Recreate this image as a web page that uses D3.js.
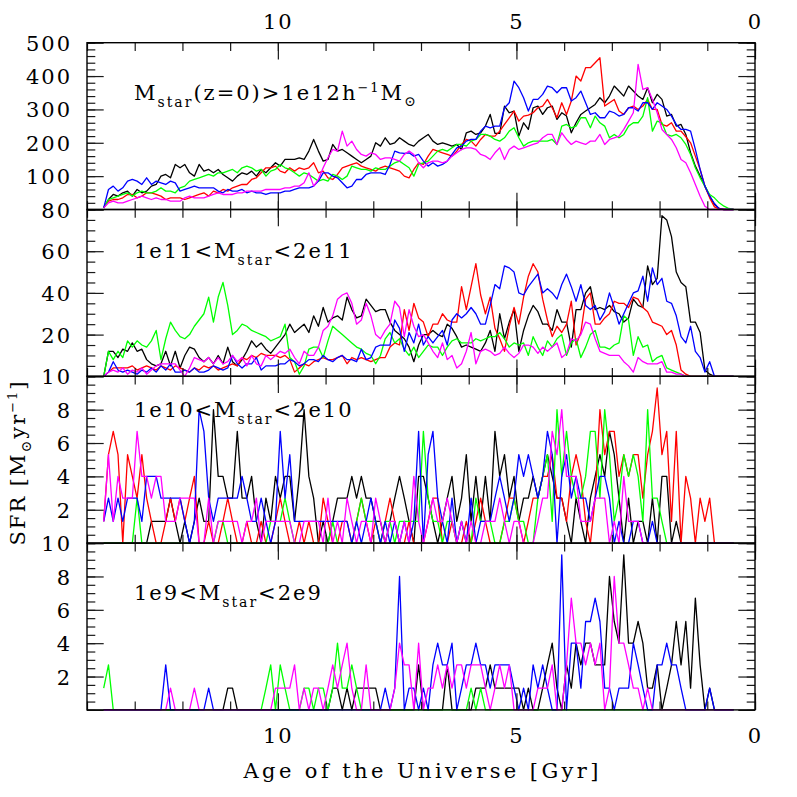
<!DOCTYPE html>
<html>
<head>
<meta charset="utf-8">
<script src="https://cdnjs.cloudflare.com/ajax/libs/d3/7.8.5/d3.min.js"></script>
<style>
  body { margin: 0; background: #fff; }
  svg { display: block; }
  text { font-family: "DejaVu Serif", serif; fill: #000; }
</style>
</head>
<body>
<script>
// time bins of 0.1 Gyr, first bin centred at an age of 13.65 Gyr
var firstBinAge = 13.65, binWidth = 0.1;

// panel 1: Mstar(z=0) > 1e12 h^-1 Msun
var p1Black = [5,30,45,40,50,55,40,60,50,55, 70,75,100,105,95,135,125,135,110,100, 135,115,120,110,120,105,95,85,100,110,
  105,115,100,120,110,125,140,130,150,150, 150,155,150,175,210,175,145,150,195,175, 180,170,160,150,140,150,160,200,190,215,
  195,200,215, 205,195,190,205,215,225,205,195,200,195, 190,195,180,230,235,225,230,250,285,228,
  228,310,290,295,220,260,240,305,310,285, 305,310,270,290,280,230,260,285,295,305, 315,335,320,340,370,355,340,370,355,340,
  330,365,320,345,330,280,285,250,255,225, 170,130,100,70,40,15,3,0,0,0];
var p1Red = [5,25,30,30,35,45,45,35,40,50, 50,45,40,30,35,35,35,30,35,40, 45,50,40,55,50,60,55,65,70,75,
  75,90,95,110,125,125,130,115,110,125, 115,125,120,125,140,110,115,95,90,105, 125,130,135,140,130,125,120,115,125,130,
  125,120,115, 100,95,120,140,135,160,180,175,170,165, 160,175,195,210,205,190,210,225,220,220,
  235,255,275,295,265,280,283,290,305,310, 330,305,275,320,285,325,400,385,425,425, 440,455,310,320,330,295,285,305,310,300,
  310,330,300,300,255,250,260,235,235,218, 200,160,120,70,35,8,2,0,0,0];
var p1Green = [5,30,35,40,45,50,40,50,55,50, 50,55,65,55,55,50,65,70,85,90, 95,100,105,100,110,110,115,120,110,125,
  130,125,115,120,100,115,120,135,125,120, 110,100,110,105,95,85,90,85,105,100, 90,100,130,125,120,120,115,125,120,120,
  130,140,145, 135,125,100,135,140,145,160,175,180,175, 185,195,195,190,205,210,225,225,220,210,
  205,215,235,245,215,190,200,205,205,205, 205,210,195,250,255,245,250,275,275,245, 280,260,250,215,225,215,225,250,260,260,
  280,335,235,265,260,225,220,225,215,195, 165,125,95,70,45,35,20,10,3,0];
var p1Blue = [5,60,70,55,65,85,90,85,75,95, 75,85,80,75,85,80,55,60,65,70, 65,65,65,65,55,50,60,55,55,60,
  50,55,50,50,45,50,50,50,55,55, 60,65,65,65,70,85,110,110,100,95, 80,65,70,90,90,105,110,110,110,105,
  135,175,170, 168,170,160,165,145,130,140,130,135,145, 165,185,190,205,210,210,235,250,245,250,
  250,305,320,385,365,335,295,330,330,345, 370,365,350,365,365,325,335,355,320,285, 290,275,275,295,290,280,285,305,305,295,
  320,320,300,320,310,300,280,255,240,240, 235,180,120,70,40,18,2,0,0,0];
var p1Magenta = [5,20,25,20,20,25,30,35,40,35, 30,35,30,30,25,25,25,35,40,35, 35,35,40,45,50,45,45,45,50,50,
  55,55,55,55,60,60,60,60,65,65, 70,70,80,110,70,90,125,155,180,175, 235,190,205,180,165,160,170,165,150,155,
  155,150,145, 165,175,165,140,125,140,145,145,140,145, 160,170,180,185,185,180,165,160,150,170,
  185,150,180,190,180,185,190,195,200,215, 225,225,195,230,210,195,205,200,195,205, 205,225,195,210,215,220,240,265,290,435,
  360,365,330,290,240,225,210,185,150,140, 110,75,40,10,0,0,0,0,0,0];

// panel 2: 1e11 < Mstar < 2e11
var p2Black = [0,12,12,9,13,12,16,12,13,8, 6,5,6,12,5,12,4,10,14,13, 9,7,9,6,10,6,14,7,5,8,
  12,17,14,16,13,11,14,17,20,25, 21,23,25,21,29,24,33,26,28,29, 27,38,32,28,29,37,34,31,32,32,
  26,22,20, 18,14,7,15,20,20,22,20,19,25, 23,19,14,15,14,13,12,16,22,12,
  30,18,26,32,12,22,29,34,31,25, 25,22,32,26,26,14,32,32,40,43, 32,33,32,34,31,30,26,28,37,34,
  33,53,44,47,77,75,67,50,45,43, 26,26,21,3,1,0,0,0,0,0];
var p2Red = [0,2,4,4,4,4,5,3,4,5, 4,3,5,4,3,5,4,3,2,4, 3,5,4,5,3,4,5,6,5,9,
  8,10,9,11,10,10,10,9,10,8, 2,4,6,5,7,8,9,8,8,9, 10,6,9,8,9,8,7,8,9,9,
  14,16,15, 32,22,35,28,26,19,25,25,30,27, 26,26,43,32,43,54,39,30,38,23,
  18,12,24,33,25,38,48,54,50,37, 27,19,24,21,25,36,15,21,37,40, 25,25,28,30,36,35,35,33,38,37,
  33,31,26,25,24,20,22,15,3,1, 0,0,0,0,0,0,0,0,0,0];
var p2Green = [0,12,8,12,9,17,14,17,15,14, 17,22,8,18,26,22,19,18,20,24, 27,30,38,26,38,45,34,20,22,25,
  24,22,21,20,19,17,18,19,25,9, 7,1,5,13,14,14,9,17,24,22, 20,18,16,14,13,11,10,6,10,18,
  21,16,18, 13,10,14,9,12,15,14,14,10,14, 17,18,16,16,16,18,17,18,19,19,
  21,18,14,16,15,16,10,19,14,10, 17,14,18,20,10,16,18,9,14,20, 22,14,14,13,15,16,29,27,10,19,
  14,15,7,9,10,4,3,2,1,0, 0,0,0,0,0,0,0,0,0,0];
var p2Blue = [0,2,7,3,2,3,2,1,3,2, 4,2,5,3,6,2,2,3,2,4, 2,2,3,5,4,3,4,10,6,4,
  6,6,9,3,5,5,5,6,6,8, 7,5,6,8,8,7,10,8,7,9, 10,8,8,7,13,8,9,14,15,15,
  15,27,23, 12,21,16,25,15,19,16,19,22,15, 27,30,28,30,33,30,25,25,34,44,
  42,53,52,50,40,39,43,46,49,40, 42,40,37,44,49,43,36,44,34,32, 34,27,31,40,33,25,30,35,40,41,
  48,36,52,44,47,36,35,29,19,16, 24,12,9,2,7,0,0,0,0,0];
var p2Magenta = [0,2,3,2,4,1,3,2,4,1, 3,5,6,6,6,6,3,0,4,9, 8,7,9,6,9,6,7,10,7,9,
  5,10,6,5,10,8,10,12,11,13, 9,6,12,10,10,14,22,24,29,37, 39,40,35,25,27,35,29,20,18,22,
  25,36,33, 19,32,24,19,20,16,12,9,16,8, 10,4,6,12,21,6,12,13,12,10,
  11,14,11,9,11,15,15,14,11,14, 12,14,16,9,11,18,17,20,26,25, 18,12,11,10,10,10,7,5,2,9,
  7,6,6,6,7,2,2,1,1,0, 0,0,0,0,0,0,0,0,0,0];

// panel 3: 1e10 < Mstar < 2e10
var p3Black = [0,0,0,0,0,0,0,0,0,0, 1.3,1.3,1.3,1.3,2.7,1.3,0,1.3,0,1.3, 2.7,1.3,1.3,8,4,4,2.7,2.7,6.7,2.7,
  2.7,4,1.3,0,2.7,1.3,4,2.7,4,4, 1.3,4,8,4,2.7,0,1.3,0,1.3,2.7, 2.7,2.7,4,2.7,4,2.7,2.7,1.3,1.3,0,
  1.3,2.7,4, 2.7,1.3,0,4,4,2.7,1.3,0,1.3,2.7, 4,1.3,2.7,5.3,1.3,4,1.3,4,1.3,6.7,
  4,5.3,2.7,4,1.3,2.7,2.7,4,2.7,4, 5.3,4,2.7,2.7,1.3,0,2.7,1.3,0,2.7, 4,5.3,4,6.7,5.3,2.7,0,2.7,0,1.3,
  1.3,0,2.7,0,4,4,0,1.3,0,0, 0,0,0,0,0,0,0,0,0,0];
var p3Red = [1.3,5.3,6.7,5.3,0,5.3,4,2.7,5.3,2.7, 1.3,0,0,1.3,2.7,1.3,2.7,1.3,2.7,4, 0,0,1.3,0,0,1.3,2.7,1.3,0,0,
  1.3,0,0,1.3,0,0,1.3,2.7,1.3,0, 0,1.3,0,1.3,0,0,2.7,1.3,0,0, 1.3,1.3,0,1.3,2.7,1.3,0,1.3,0,1.3,
  2.7,1.3,0, 0,1.3,0,0,0,1.3,2.7,2.7,0,0, 1.3,0,0,1.3,0,1.3,2.7,1.3,0,0,
  0,1.3,2.7,2.7,1.3,0,1.3,2.7,2.7,4, 4,5.3,2.7,2.7,1.3,4,5.3,4,1.3,0, 2.7,8,5.3,6.7,6.7,4,5.3,4,5.3,5.3,
  2.7,5.3,6.7,9.3,5.3,6.7,1.3,6.7,0,4, 2.7,0,2.7,1.3,2.7,0,0,0,0,0];
var p3Green = [0,0,0,0,0,0,0,2.7,0,0, 0,0,0,0,0,0,0,0,0,0, 0,0,0,0,1.3,1.3,0,0,0,0,
  0,0,0,0,0,1.3,1.3,1.3,2.7,1.3, 0,0,0,0,0,0,0,0,1.3,0, 0,0,0,1.3,2.7,1.3,1.3,1.3,0,1.3,
  1.3,0,1.3, 1.3,1.3,1.3,1.3,6.7,2.7,1.3,1.3,0,1.3, 1.3,0,1.3,0,0,2.7,1.3,1.3,1.3,0,
  0,1.3,1.3,2.7,1.3,1.3,0,0,2.7,4, 5.3,1.3,8,4,6.7,4,2.7,2.7,4,6.7, 6.7,2.7,8,5.3,1.3,2.7,5.3,4,5.3,4,
  1.3,8,2.7,2.7,1.3,0,0,0,0,0, 0,0,0,0,0,0,0,0,0,0];
var p3Blue = [1.3,2.7,1.3,2.7,1.3,2.7,2.7,2.7,1.3,4, 4,4,2.7,2.7,2.7,2.7,2.7,1.3,0,1.3, 8,6.7,2.7,1.3,2.7,2.7,2.7,2.7,2.7,4,
  2.7,1.3,1.3,2.7,1.3,0,1.3,6.7,2.7,5.3, 1.3,1.3,1.3,1.3,1.3,1.3,1.3,1.3,1.3,1.3, 1.3,1.3,0,1.3,0,1.3,2.7,1.3,0,1.3,
  0,1.3,0, 1.3,0,1.3,6.7,0,5.3,6.7,2.7,1.3,0, 2.7,0,1.3,0,2.7,0,1.3,1.3,1.3,2.7,
  4,2.7,1.3,2.7,5.3,4,5.3,4,2.7,4, 6.7,5.3,0,4,5.3,2.7,4,2.7,2.7,1.3, 2.7,4,4,2.7,0,1.3,0,0,1.3,1.3,
  0,0,1.3,0,0,0,0,0,0,0, 0,0,0,0,0,0,0,0,0,0];
var p3Magenta = [1.3,5.3,1.3,4,2.7,2.7,2.7,6.7,4,4, 2.7,4,4,1.3,1.3,1.3,2.7,2.7,2.7,2.7, 0,0,2.7,0,1.3,1.3,1.3,1.3,1.3,0,
  1.3,1.3,2.7,0,1.3,1.3,1.3,1.3,1.3,1.3, 0,0,1.3,1.3,1.3,1.3,0,2.7,0,1.3, 0,2.7,1.3,0,1.3,1.3,0,2.7,1.3,0,
  1.3,1.3,0, 1.3,0,4,1.3,0,1.3,2.7,1.3,1.3,2.7, 1.3,0,1.3,0,1.3,0,0,1.3,1.3,1.3,
  2.7,1.3,0,1.3,1.3,0,0,0,1.3,2.7, 2.7,6.7,5.3,8,4,4,4,1.3,1.3,1.3, 2.7,2.7,2.7,0,1.3,0,4,1.3,1.3,1.3,
  0,0,0,0,0,0,0,0,0,0, 0,0,0,0,0,0,0,0,0,0];

// panel 4: 1e9 < Mstar < 2e9 (no red curve)
var p4Black = [0,0,0,0,0,0,0,0,0,0, 0,0,0,0,0,0,0,0,0,0, 0,0,0,0,0,0,1.3,1.3,0,0,
  0,0,0,0,0,0,0,0,0,0, 0,0,0,0,0,0,0,0,1.3,1.3, 0,1.3,0,1.3,1.3,1.3,1.3,1.3,0,0,
  0,0,0, 0,0,0,2.7,0,0,0,0,0,2.7, 0,0,0,0,0,1.3,1.3,1.3,2.7,1.3,
  1.3,1.3,1.3,1.3,1.3,0,1.3,0,0,1.3, 2.7,4,1.3,0,2.7,1.3,4,2.7,4,4, 2.7,2.7,2.7,8,5.3,4,9.3,4,4,5.3,
  4,1.3,1.3,2.7,0,1.3,2.7,5.3,2.7,5.3, 1.3,6.7,2.7,0,1.3,0,0,0,0,0];
var p4Green = [1.3,2.7,0,0,0,0,0,0,0,0, 0,0,0,0,0,0,0,0,0,0, 0,0,0,0,0,0,0,0,0,0,
  0,0,0,0,1.3,2.7,0,2.7,1.3,0, 0,0,1.3,1.3,0,1.3,1.3,0,1.3,4, 1.3,1.3,2.7,1.3,0,0,0,0,0,0,
  0,0,0, 0,0,0,0,0,0,0,0,0,0, 0,0,0,0,1.3,0,1.3,0,0,0,
  0,0,0,0,0,0,0,0,0,0, 0,0,0,0,0,0,0,0,0,0, 0,0,0,0,0,0,0,0,0,0,
  0,0,0,0,0,0,0,0,0,0, 0,0,0,0,0,0,0,0,0,0];
var p4Blue = [0,0,0,0,0,0,0,0,0,0, 0,0,0,2.7,0,0,0,0,0,0, 0,0,1.3,0,0,0,0,0,0,0,
  0,0,0,0,0,0,0,0,0,0, 0,0,0,0,0,0,0,0,0,0, 0,0,0,0,0,0,0,0,0,1.3,
  0,1.3,8, 0,1.3,1.3,0,1.3,0,2.7,4,2.7,2.7, 4,0,1.3,2.7,2.7,4,2.7,2.7,1.3,2.7,
  2.7,2.7,2.7,1.3,0,1.3,0,2.7,1.3,2.7, 1.3,0,0,9.3,0,4,4,1.3,5.3,5.3, 6.7,5.3,1.3,1.3,0,1.3,1.3,1.3,4,2.7,
  1.3,0,0,2.7,2.7,4,2.7,2.7,1.3,0, 0,0,0,0,1.3,0,0,0,0,0];
var p4Magenta = [0,0,0,0,0,0,0,0,0,0, 0,0,0,0,1.3,0,0,0,0,1.3, 0,0,0,0,0,0,0,0,0,0,
  0,0,0,0,0,0,1.3,1.3,1.3,1.3, 2.7,0,1.3,0,1.3,1.3,0,1.3,2.7,1.3, 2.7,4,1.3,0,0,2.7,0,0,0,0,
  0,1.3,4, 2.7,2.7,0,4,0,1.3,1.3,2.7,1.3,2.7, 1.3,2.7,2.7,1.3,2.7,2.7,2.7,1.3,0,1.3,
  2.7,1.3,2.7,0,0,0,0,0,1.3,1.3, 1.3,2.7,0,0,2.7,6.7,4,4,2.7,4, 2.7,4,0,1.3,8,4,4,2.7,1.3,1.3,
  0,1.3,0,0,0,0,0,0,0,0, 0,0,0,0,0,0,0,0,0,0];

var seriesColours = ['#000000', '#ff0000', '#00ff00', '#0000ff', '#ff00ff'];
var xLabelTicks = [10, 5, 0];

var width = 797, height = 797;
var plotLeft = 87, plotRight = 755, plotTop = 42.7, panelH = 166.8;

var ageBins = d3.range(p1Black.length).map(function (i) { return firstBinAge - i * binWidth; });

var panels = [
  { yMax: 500, major: 100, minor: 20, labelDy: 57.3,
    label: [{t: 'M'}, {t: 'star', size: 14, dy: 7}, {t: '(z=0)>1e12h', dy: -7}, {t: '\u22121', size: 13, dy: -8},
            {t: 'M', dy: 8}, {t: '\u2299', size: 14, dy: 6}],
    series: [p1Black, p1Red, p1Green, p1Blue, p1Magenta] },
  { yMax: 80, major: 20, minor: 5, labelDy: 48.5,
    label: [{t: '1e11<M'}, {t: 'star', size: 14, dy: 7}, {t: '<2e11', dy: -7}],
    series: [p2Black, p2Red, p2Green, p2Blue, p2Magenta] },
  { yMax: 10, major: 2, minor: 0.5, labelDy: 40.4,
    label: [{t: '1e10<M'}, {t: 'star', size: 14, dy: 7}, {t: '<2e10', dy: -7}],
    series: [p3Black, p3Red, p3Green, p3Blue, p3Magenta] },
  { yMax: 10, major: 2, minor: 0.5, labelDy: 56.9,
    label: [{t: '1e9<M'}, {t: 'star', size: 14, dy: 7}, {t: '<2e9', dy: -7}],
    series: [p4Black, null, p4Green, p4Blue, p4Magenta] }
];

var svg = d3.select('body').append('svg')
  .attr('width', width)
  .attr('height', height);

var x = d3.scaleLinear().domain([14, 0]).range([plotLeft, plotRight]);

function richText(sel, parts) {
  parts.forEach(function (p) {
    sel.append('tspan')
      .attr('font-size', p.size || 21)
      .attr('dy', p.dy || 0)
      .text(p.t);
  });
}

function tickAxis(axis, vals, len, tx, ty) {
  svg.append('g')
    .attr('transform', 'translate(' + tx + ',' + ty + ')')
    .attr('color', '#1a1a1a')
    .call(axis.tickValues(vals).tickSize(-len).tickSizeOuter(0).tickFormat(''))
    .call(function (g) { g.select('.domain').remove(); })
    .selectAll('line').attr('stroke-width', 1.2);
}

var xMinor = d3.range(0, 14.001, 1), xMajor = [0, 5, 10];

panels.forEach(function (p, k) {
  var y0 = plotTop + k * panelH, y1 = y0 + panelH;
  var y = d3.scaleLinear().domain([0, p.yMax]).range([y1, y0]);

  var line = d3.line()
    .x(function (d, i) { return x(ageBins[i]); })
    .y(function (d) { return y(d); });

  p.series.forEach(function (s, j) {
    if (!s) return;
    svg.append('path')
      .attr('d', line(s))
      .attr('fill', 'none')
      .attr('stroke', seriesColours[j])
      .attr('stroke-width', 1.3)
      .attr('stroke-linejoin', 'round');
  });

  // ticks on all four sides, pointing inwards
  var yMinor = d3.range(0, p.yMax + 1e-9, p.minor);
  var yMajor = d3.range(0, p.yMax + 1e-9, p.major);
  tickAxis(d3.axisLeft(y), yMinor, 8.3, plotLeft, 0);
  tickAxis(d3.axisLeft(y), yMajor, 16.7, plotLeft, 0);
  tickAxis(d3.axisRight(y), yMinor, 8.3, plotRight, 0);
  tickAxis(d3.axisRight(y), yMajor, 16.7, plotRight, 0);
  tickAxis(d3.axisTop(x), xMinor, 8.3, 0, y0);
  tickAxis(d3.axisTop(x), xMajor, 16.7, 0, y0);
  tickAxis(d3.axisBottom(x), xMinor, 8.3, 0, y1);
  tickAxis(d3.axisBottom(x), xMajor, 16.7, 0, y1);

  svg.append('rect')
    .attr('x', plotLeft).attr('y', y0)
    .attr('width', plotRight - plotLeft).attr('height', panelH)
    .attr('fill', 'none')
    .attr('stroke', '#000')
    .attr('stroke-width', 1.4);

  // y tick labels (zero left out, the panel below owns that spot)
  svg.append('g')
    .attr('transform', 'translate(' + plotLeft + ',0)')
    .call(d3.axisLeft(y).tickValues(yMajor.filter(function (v) { return v > 0; }))
      .tickSize(0).tickPadding(15).tickFormat(d3.format('d')))
    .call(function (g) { g.select('.domain').remove(); })
    .selectAll('text')
    .attr('dy', '0.36em')
    .attr('font-size', 21)
    .attr('font-family', '"DejaVu Serif", serif')
    .attr('letter-spacing', 2)
    .attr('fill', '#000');

  var lab = svg.append('text')
    .attr('x', 134)
    .attr('y', y0 + p.labelDy)
    .attr('letter-spacing', 2)
    .attr('font-size', 21);
  richText(lab, p.label);
});

// x tick labels, top and bottom
svg.append('g')
  .attr('transform', 'translate(0,' + plotTop + ')')
  .call(d3.axisTop(x).tickValues(xLabelTicks).tickSize(0).tickPadding(14).tickFormat(d3.format('d')))
  .call(function (g) { g.select('.domain').remove(); })
  .selectAll('text')
  .attr('font-size', 21).attr('font-family', '"DejaVu Serif", serif')
  .attr('letter-spacing', 2).attr('fill', '#000');

svg.append('g')
  .attr('transform', 'translate(0,' + (plotTop + 4 * panelH) + ')')
  .call(d3.axisBottom(x).tickValues(xLabelTicks).tickSize(0).tickFormat(d3.format('d')))
  .call(function (g) { g.select('.domain').remove(); })
  .selectAll('text')
  .attr('y', 33).attr('dy', 0)
  .attr('font-size', 21).attr('font-family', '"DejaVu Serif", serif')
  .attr('letter-spacing', 2).attr('fill', '#000');

// axis titles
svg.append('text')
  .attr('x', (plotLeft + plotRight) / 2)
  .attr('y', 778)
  .attr('text-anchor', 'middle')
  .attr('font-size', 21)
  .attr('textLength', 355)
  .attr('lengthAdjust', 'spacing')
  .text('Age of the Universe [Gyr]');

var yTitle = svg.append('text')
  .attr('transform', 'translate(25,462.5) rotate(-90)')
  .attr('text-anchor', 'middle')
  .attr('letter-spacing', 2)
  .attr('font-size', 21);
richText(yTitle, [{t: 'SFR [M'}, {t: '\u2299', size: 14, dy: 6}, {t: 'yr', dy: -6},
                  {t: '\u22121', size: 13, dy: -8}, {t: ']', dy: 8}]);
</script>
</body>
</html>
